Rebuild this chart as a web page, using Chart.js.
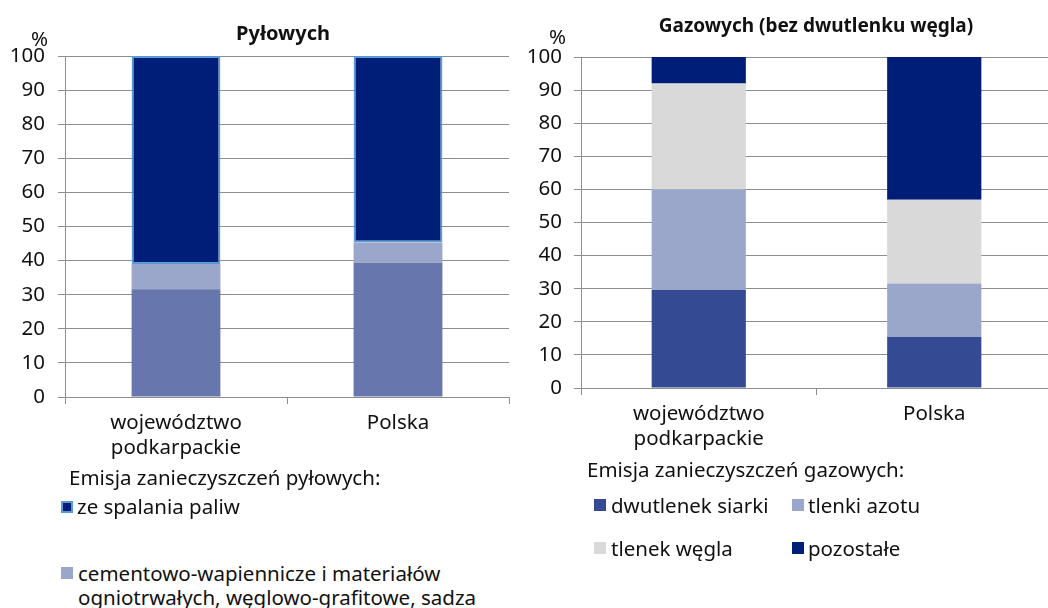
<!DOCTYPE html>
<html lang="pl">
<head>
<meta charset="utf-8">
<script src="https://cdn.jsdelivr.net/npm/chart.js@4"></script>
<style>
  html, body { margin: 0; padding: 0; background: #fff; overflow: hidden; }
  #wrap { position: relative; width: 1048px; height: 608px; overflow: hidden; font-family: "Noto Sans", sans-serif; color: #111; }
  .abs { position: absolute; white-space: nowrap; }
  .title { font-weight: bold; line-height: 22px; text-align: center; }
  .txt { font-size: 20.5px; line-height: 24px; }
  .sq { position: absolute; width: 12px; height: 12px; box-sizing: border-box; }
  canvas { display: block; }
</style>
</head>
<body>
<div id="wrap">
  <div class="abs" style="left:0;top:0;width:520px;height:470px;"><canvas id="c1" width="520" height="470"></canvas></div>
  <div class="abs" style="left:520px;top:0;width:540px;height:470px;"><canvas id="c2" width="540" height="470"></canvas></div>

  <div class="abs title" style="left:0;width:566px;top:22px;font-size:20px;">Pyłowych</div>
  <div class="abs title" style="left:584px;width:464px;top:14px;font-size:19px;">Gazowych (bez dwutlenku węgla)</div>
  <div class="abs txt" style="left:31px;top:26px;">%</div>
  <div class="abs txt" style="left:549px;top:24px;">%</div>

  <div class="abs txt" style="left:69px;top:465px;">Emisja zanieczyszczeń pyłowych:</div>
  <div class="sq" style="left:61px;top:501px;background:#001E78;border:2px solid #5B9BD5;"></div>
  <div class="abs txt" style="left:77px;top:494px;">ze spalania paliw</div>
  <div class="sq" style="left:61px;top:567px;background:#9AA6CA;"></div>
  <div class="abs txt" style="left:78px;top:561px;">cementowo-wapiennicze i materiałów<br>ogniotrwałych, węglowo-grafitowe, sadza</div>

  <div class="abs txt" style="left:587px;top:457px;">Emisja zanieczyszczeń gazowych:</div>
  <div class="sq" style="left:594px;top:499px;background:#344A93;"></div>
  <div class="abs txt" style="left:611px;top:493px;">dwutlenek siarki</div>
  <div class="sq" style="left:792px;top:499px;background:#9AA6CA;"></div>
  <div class="abs txt" style="left:808px;top:493px;">tlenki azotu</div>
  <div class="sq" style="left:594px;top:542px;background:#D9D9D9;"></div>
  <div class="abs txt" style="left:611px;top:536px;">tlenek węgla</div>
  <div class="sq" style="left:792px;top:542px;background:#001E78;"></div>
  <div class="abs txt" style="left:808px;top:536px;">pozostałe</div>
</div>
<script>
// ---- data ----
const categories = [['województwo', 'podkarpackie'], 'Polska'];
const yTicks = [0, 10, 20, 30, 40, 50, 60, 70, 80, 90, 100];

// Pyłowych (%)
const dustOther = [31.6, 39.4];
const dustCement = [7.4, 5.9];
const dustFuel = [61.0, 54.7];

// Gazowych (%)
const gasSO2 = [29.6, 15.4];
const gasNOx = [30.4, 16.2];
const gasCO = [32.0, 25.3];
const gasOther = [8.0, 43.1];

// ---- styling ----
const FONT = '"Noto Sans", sans-serif';
const GRID = '#8E8E8E';
const TXT = '#111';

function makeOptions(axisWidth, xHeight, padTop, padRight, yPad, xPad) {
  return {
    responsive: false,
    devicePixelRatio: 1,
    animation: false,
    layout: { padding: { top: padTop, right: padRight, left: 0, bottom: 0 } },
    plugins: { legend: { display: false }, title: { display: false }, tooltip: { enabled: false } },
    scales: {
      x: {
        stacked: true,
        offset: true,
        grid: { drawOnChartArea: false, offset: true, color: GRID, tickLength: 7, lineWidth: 1 },
        border: { color: GRID, width: 1 },
        ticks: { color: TXT, font: { family: FONT, size: 20.5, lineHeight: 1.25 }, padding: xPad, maxRotation: 0, autoSkip: false },
        afterFit: s => { s.height = xHeight; }
      },
      y: {
        stacked: true,
        min: 0, max: 100,
        afterBuildTicks: s => { s.ticks = yTicks.map(v => ({ value: v })); },
        grid: { color: GRID, tickLength: 7, lineWidth: 1 },
        border: { color: GRID, width: 1 },
        ticks: { color: TXT, font: { family: FONT, size: 20.5 }, padding: yPad },
        afterFit: s => { s.width = axisWidth; }
      }
    }
  };
}

function ds(label, data, color, extra) {
  return Object.assign({ label, data, backgroundColor: color, borderWidth: 0,
    categoryPercentage: 1.0, barPercentage: 0.4 }, extra || {});
}

new Chart(document.getElementById('c1'), {
  type: 'bar',
  data: {
    labels: categories,
    datasets: [
      ds('pozostałe', dustOther, '#6777AD'),
      ds('cementowo-wapiennicze i materiałów ogniotrwałych, węglowo-grafitowe, sadza', dustCement, '#9AA6CA'),
      ds('ze spalania paliw', dustFuel, '#001E78', { borderColor: '#5B9BD5', borderWidth: 2, borderSkipped: false })
    ]
  },
  options: makeOptions(65, 73, 56, 11, 13, 6)
});

new Chart(document.getElementById('c2'), {
  type: 'bar',
  data: {
    labels: categories,
    datasets: [
      ds('dwutlenek siarki', gasSO2, '#344A93'),
      ds('tlenki azotu', gasNOx, '#9AA6CA'),
      ds('tlenek węgla', gasCO, '#D9D9D9'),
      ds('pozostałe', gasOther, '#001E78')
    ]
  },
  options: makeOptions(61, 82, 57, 8, 12, 6)
});
</script>
</body>
</html>
